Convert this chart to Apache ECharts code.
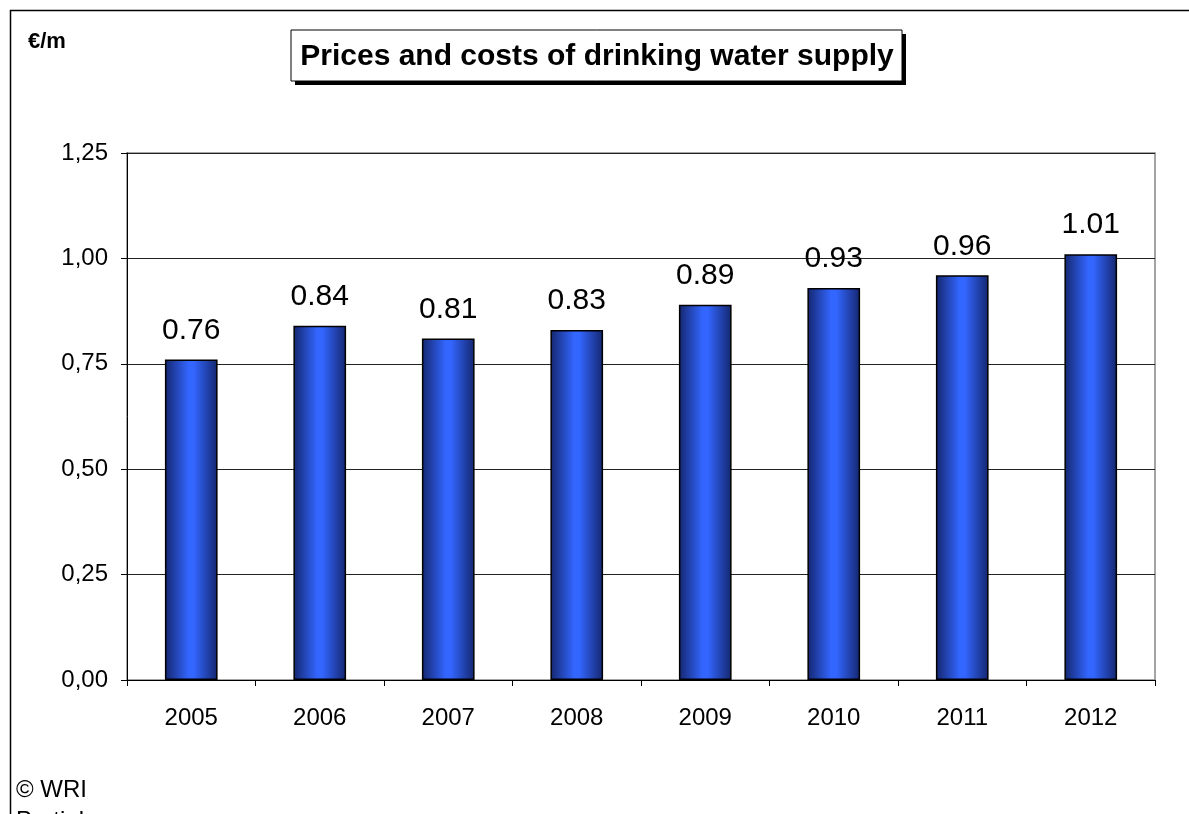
<!DOCTYPE html>
<html>
<head>
<meta charset="utf-8">
<script src="https://cdn.jsdelivr.net/npm/echarts@6/dist/echarts.min.js"></script>
<style>
html,body{margin:0;padding:0;background:#fff;}
#chart{width:1189px;height:814px;}
</style>
</head>
<body>
<div id="chart"></div>
<script>
const years = ['2005','2006','2007','2008','2009','2010','2011','2012'];
const prices = [0.76, 0.84, 0.81, 0.83, 0.89, 0.93, 0.96, 1.01];
const yTicks = {min: 0, max: 1.25, interval: 0.25};
const titleText = 'Prices and costs of drinking water supply';
const unitText = '€/m';
const sourceText = '© WRI';
const noteText = 'Partial';

const FONT = '"Liberation Sans", Arial, sans-serif';
const chart = echarts.init(document.getElementById('chart'));
chart.setOption({
  backgroundColor: '#ffffff',
  animation: false,
  grid: {left: 127, right: 34, top: 153, bottom: 134, show: true, borderColor: '#888888', borderWidth: 1.5, backgroundColor: 'transparent'},
  xAxis: {
    type: 'category',
    data: years,
    axisLine: {lineStyle: {color: '#000', width: 1}},
    axisTick: {show: true, alignWithLabel: false, length: 6, lineStyle: {color: '#000'}},
    axisLabel: {color: '#000', fontSize: 24, fontFamily: FONT, margin: 26}
  },
  yAxis: {
    type: 'value',
    min: yTicks.min, max: yTicks.max, interval: yTicks.interval,
    axisLine: {show: true, lineStyle: {color: '#000', width: 1}},
    axisTick: {show: true, length: 6, lineStyle: {color: '#000'}},
    splitLine: {show: true, lineStyle: {color: '#222', width: 1}},
    axisLabel: {color: '#000', fontSize: 24, fontFamily: FONT, margin: 19,
      formatter: v => v.toFixed(2).replace('.', ',')}
  },
  series: [{
    type: 'bar',
    data: prices,
    barWidth: '41%',
    itemStyle: {
      borderColor: '#000', borderWidth: 1.5,
      color: new echarts.graphic.LinearGradient(0, 0, 1, 0, [
        {offset: 0, color: '#14266e'},
        {offset: 0.45, color: '#3366ff'},
        {offset: 0.55, color: '#3366ff'},
        {offset: 1, color: '#14266e'}
      ])
    },
    label: {show: true, position: 'top', distance: 14, color: '#000', fontSize: 30, fontFamily: FONT,
      formatter: p => p.value.toFixed(2)}
  }],
  graphic: [
    {type: 'rect', shape: {x: 10.5, y: 10.5, width: 1250, height: 850}, style: {fill: 'none', stroke: '#000', lineWidth: 1.5}, silent: true},
    {type: 'rect', shape: {x: 295, y: 34, width: 611, height: 51}, style: {fill: '#000'}, silent: true},
    {type: 'rect', shape: {x: 291, y: 30, width: 611, height: 51}, style: {fill: '#fff', stroke: '#000', lineWidth: 1}, silent: true},
    {type: 'text', x: 597, y: 57, style: {text: titleText, font: 'bold 30px "Liberation Sans", Arial, sans-serif', fill: '#000', align: 'center', verticalAlign: 'middle'}, silent: true},
    {type: 'text', left: 28, top: 31, style: {text: unitText, font: 'bold 22px "Liberation Sans", Arial, sans-serif', fill: '#000'}, silent: true},
    {type: 'text', left: 16, top: 778, style: {text: sourceText, font: '24px "Liberation Sans", Arial, sans-serif', fill: '#000'}, silent: true},
    {type: 'text', left: 16, top: 809, style: {text: noteText, font: '24px "Liberation Sans", Arial, sans-serif', fill: '#000'}, silent: true}
  ]
});
</script>
</body>
</html>
